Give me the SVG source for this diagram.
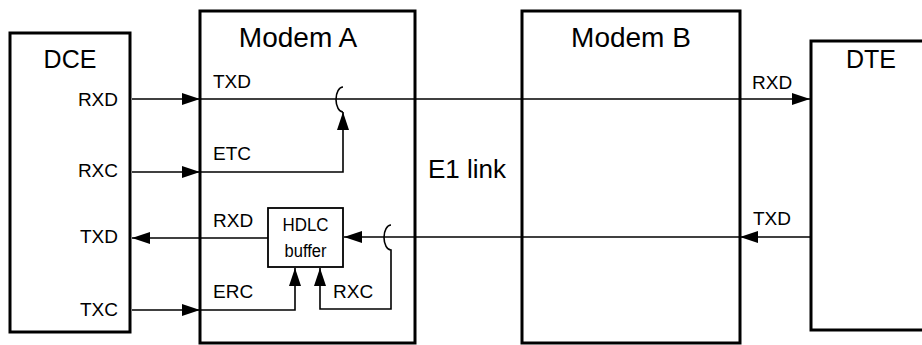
<svg xmlns="http://www.w3.org/2000/svg" width="922" height="345" viewBox="0 0 922 345">
<style>
.box{fill:#fff;stroke:#000;stroke-width:3}
.hb{fill:#fff;stroke:#000;stroke-width:1.8}
.ln{fill:none;stroke:#000;stroke-width:1.6}
text{font-family:"Liberation Sans",Arial,sans-serif;fill:#000}
.big{font-size:28px}
.mid{font-size:25px}
.el{font-size:26px}
.sm{font-size:19px}
.xs{font-size:18px}
</style>
<defs>
<marker id="ah" markerUnits="userSpaceOnUse" markerWidth="20" markerHeight="14" viewBox="0 0 20 14" refX="19" refY="7" orient="auto">
<path d="M1,1 L19,7 L1,13 Z" fill="#000"/>
</marker>
</defs>
<rect width="922" height="345" fill="#fff"/>
<g id="dce"><rect class="box" x="10" y="33" width="120" height="299"/><text class="mid" x="70" y="68" text-anchor="middle">DCE</text>
<text class="sm" x="118" y="106" text-anchor="end">RXD</text>
<text class="sm" x="118" y="177" text-anchor="end">RXC</text>
<text class="sm" x="118" y="243" text-anchor="end">TXD</text>
<text class="sm" x="118" y="316" text-anchor="end">TXC</text></g>
<g id="modemA"><rect class="box" x="200" y="11" width="215" height="332"/><text class="big" x="298" y="47" text-anchor="middle">Modem A</text>
<text class="sm" x="213" y="88">TXD</text>
<text class="sm" x="213" y="160">ETC</text>
<text class="sm" x="213" y="227">RXD</text>
<text class="sm" x="213" y="298">ERC</text>
<text class="sm" x="333" y="298">RXC</text></g>
<g id="hdlc"><rect class="hb" x="268" y="208" width="75" height="59"/><text class="xs" x="305.500" y="231" text-anchor="middle" textLength="46" lengthAdjust="spacingAndGlyphs">HDLC</text><text class="xs" x="305.500" y="257" text-anchor="middle" textLength="42" lengthAdjust="spacingAndGlyphs">buffer</text></g>
<g id="modemB"><rect class="box" x="522" y="11" width="218" height="332"/><text class="big" x="631" y="47" text-anchor="middle">Modem B</text></g>
<g id="dte"><rect class="box" x="811" y="41" width="120" height="289"/><text class="mid" x="871" y="68" text-anchor="middle">DTE</text>
<text class="sm" x="752" y="89">RXD</text>
<text class="sm" x="753" y="225">TXD</text></g>
<text class="el" x="428" y="178">E1 link</text>
<g id="connectors">
<path class="ln" d="M132,99 H200" marker-end="url(#ah)"/>
<path class="ln" d="M200,99 H810" marker-end="url(#ah)"/>
<path class="ln" d="M343,87 A7,12.500 0 0 0 343,112"/>
<path class="ln" d="M132,172 H200" marker-end="url(#ah)"/>
<path class="ln" d="M200,172 H343 V112" marker-end="url(#ah)"/>
<path class="ln" d="M811,237 H740" marker-end="url(#ah)"/>
<path class="ln" d="M740,237 H344" marker-end="url(#ah)"/>
<path class="ln" d="M391,225 A7,12.500 0 0 0 391,250 V309 H320 V268" marker-end="url(#ah)"/>
<path class="ln" d="M268,238 H132" marker-end="url(#ah)"/>
<path class="ln" d="M132,310 H200" marker-end="url(#ah)"/>
<path class="ln" d="M200,310 H295 V268" marker-end="url(#ah)"/>
</g>
</svg>
